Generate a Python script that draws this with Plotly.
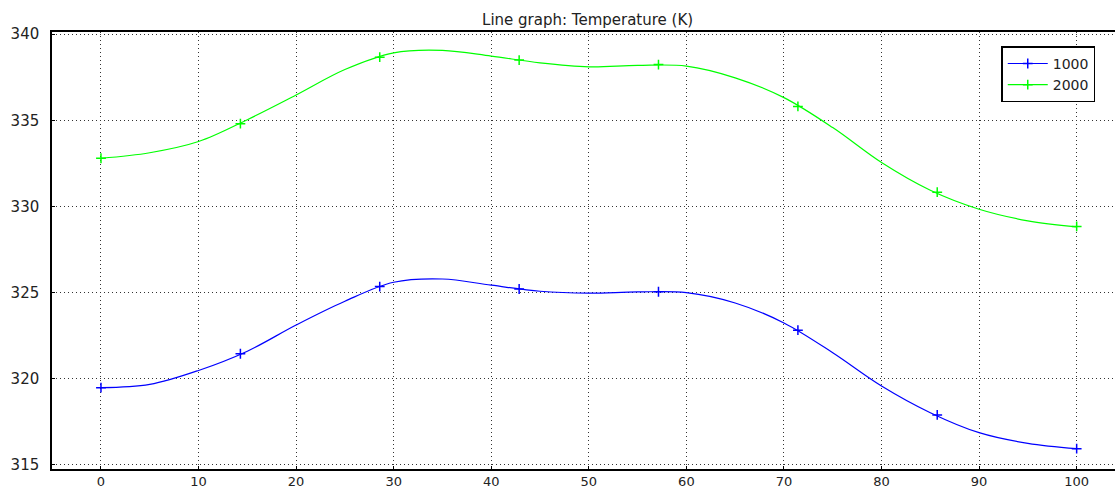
import plotly.graph_objects as go

# Curve samples (x in arc-length units, Temperature in K)
curve_x = [0, 5, 10, 15, 20, 25, 30, 35, 40, 45, 50, 55, 60, 65, 70, 75, 80, 85, 90, 95, 100]
curve_1000 = [319.48, 319.67, 320.48, 321.60, 323.12, 324.50, 325.60, 325.79, 325.43, 325.08,
              324.97, 325.04, 325.00, 324.40, 323.24, 321.51, 319.58, 318.03, 316.87, 316.25, 315.94]
curve_2000 = [332.80, 333.12, 333.77, 335.04, 336.47, 337.95, 338.92, 339.06, 338.73, 338.34,
              338.11, 338.19, 338.15, 337.47, 336.32, 334.58, 332.55, 330.94, 329.84, 329.17, 328.82]

# Marker points
marker_x = [0, 14.29, 28.57, 42.86, 57.14, 71.43, 85.71, 100]
marker_1000 = [319.48, 321.45, 325.35, 325.21, 325.05, 322.82, 317.90, 315.94]
marker_2000 = [332.80, 334.81, 338.67, 338.50, 338.24, 335.81, 330.83, 328.84]

series_names = ["1000", "2000"]
series_colors = ["#0000FF", "#00FF00"]

x_ticks = [0, 10, 20, 30, 40, 50, 60, 70, 80, 90, 100]
y_ticks = [315, 320, 325, 330, 335, 340]

fig = go.Figure()
for name, color, cy, my in zip(series_names, series_colors,
                               [curve_1000, curve_2000], [marker_1000, marker_2000]):
    fig.add_trace(go.Scatter(x=curve_x, y=cy, mode="lines", line=dict(color=color, width=1.2, shape="spline"),
                             showlegend=False, hoverinfo="skip"))
    fig.add_trace(go.Scatter(x=marker_x, y=my, mode="markers",
                             marker=dict(symbol="cross-thin", size=7, line=dict(color=color, width=1.5), color=color),
                             showlegend=False))
    fig.add_trace(go.Scatter(x=[None], y=[None], mode="lines+markers", name=name,
                             line=dict(color=color, width=1.2),
                             marker=dict(symbol="cross-thin", size=7, line=dict(color=color, width=1.5), color=color)))

font_family = "DejaVu Sans, Arial, sans-serif"
fig.update_layout(
    width=1115, height=491,
    margin=dict(l=52, r=0, t=32, b=22),
    paper_bgcolor="white", plot_bgcolor="white",
    font=dict(family=font_family, size=14, color="#222"),
    title=dict(text="Line graph: Temperature (K)", x=0.527, xref="container", xanchor="center",
               y=0.96, yref="container", yanchor="middle", font=dict(size=15, color="#222")),
    legend=dict(x=0.893, y=0.967, xanchor="left", yanchor="top", bgcolor="white",
                bordercolor="black", borderwidth=1.5, font=dict(size=14, color="#222"),
                tracegroupgap=0, itemwidth=40),
    showlegend=True,
)
fig.update_xaxes(range=[-5.02, 103.93], tickvals=x_ticks, showgrid=True, gridcolor="#333",
                 griddash="1px,3px", gridwidth=1.2, zeroline=False, showline=True, linecolor="black",
                 linewidth=1.5, mirror=True, ticks="inside", ticklen=3, tickcolor="black",
                 ticklabelstandoff=0, automargin=False, tickfont=dict(size=13))
fig.update_yaxes(range=[314.76, 340.13], tickvals=y_ticks, showgrid=True, gridcolor="#333",
                 griddash="1px,3px", gridwidth=1.2, zeroline=False, showline=True, linecolor="black",
                 linewidth=1.5, mirror=True, ticks="inside", ticklen=3, tickcolor="black",
                 ticklabelstandoff=8, automargin=False, tickfont=dict(size=15))

fig.write_html("out.html", config={"displayModeBar": False},
               post_script="document.body.style.margin='0';document.body.style.overflow='hidden';")
